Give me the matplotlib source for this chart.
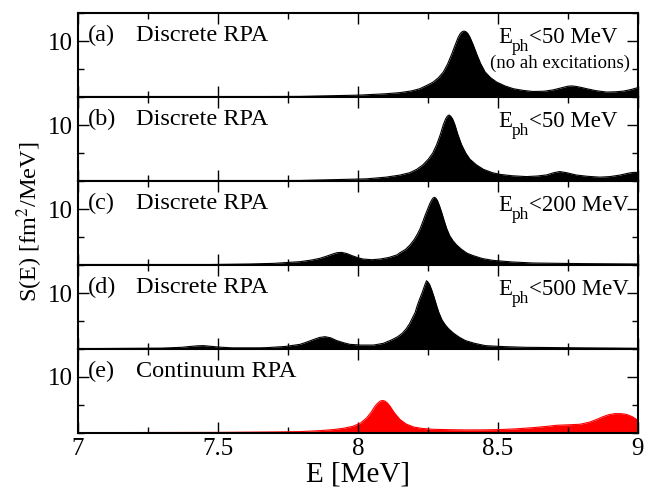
import matplotlib
matplotlib.use("Agg")
import matplotlib.pyplot as plt
from matplotlib.ticker import MultipleLocator

plt.rcParams['font.family'] = ['Liberation Serif', 'DejaVu Serif']
plt.rcParams['mathtext.fontset'] = 'stix'

# strength function, panel by panel
E_a = [7.0, 7.5, 7.793, 8.007, 8.100, 8.150, 8.190, 8.221, 8.250, 8.269, 8.288, 8.305,
       8.320, 8.335, 8.347, 8.358, 8.366, 8.373, 8.379, 8.385, 8.392, 8.400, 8.412,
       8.424, 8.438, 8.454, 8.473, 8.495, 8.525, 8.555, 8.590, 8.626, 8.665, 8.698,
       8.730, 8.750, 8.764, 8.780, 8.800, 8.817, 8.850, 8.888, 8.920, 8.948, 8.975, 9.0]
S_a = [0.03, 0.07, 0.12, 0.36, 0.6, 0.8, 1.1, 1.5, 2.2, 2.7, 3.5, 4.5,
       5.9, 7.7, 9.3, 10.7, 11.4, 11.7, 11.8, 11.7, 11.4, 10.7, 9.3,
       7.7, 6.0, 4.5, 3.5, 2.7, 2.0, 1.5, 1.2, 1.0, 1.05, 1.3,
       1.7, 1.95, 2.0, 1.9, 1.7, 1.5, 1.15, 0.9, 0.95, 1.07, 1.35, 1.7]

E_b = [7.0, 7.5, 7.793, 8.031, 8.100, 8.150, 8.185, 8.210, 8.232, 8.251, 8.267, 8.281,
       8.294, 8.305, 8.313, 8.319, 8.325, 8.331, 8.338, 8.346, 8.357, 8.370, 8.385,
       8.400, 8.423, 8.448, 8.480, 8.507, 8.550, 8.602, 8.640, 8.674, 8.700, 8.721,
       8.745, 8.781, 8.820, 8.864, 8.900, 8.936, 8.965, 8.983, 9.0]
S_b = [0.03, 0.06, 0.1, 0.4, 0.7, 1.07, 1.5, 2.1, 2.9, 3.9, 5.0, 6.5,
       8.3, 10.1, 11.1, 11.6, 11.8, 11.6, 11.1, 10.1, 8.3, 6.5, 5.0,
       3.9, 2.9, 2.1, 1.5, 1.2, 0.95, 0.8, 0.9, 1.1, 1.5, 1.7,
       1.5, 1.07, 0.85, 0.7, 0.8, 1.07, 1.4, 1.55, 1.55]

E_c = [7.0, 7.436, 7.614, 7.700, 7.793, 7.835, 7.864, 7.886, 7.906, 7.925, 7.942,
       7.960, 7.979, 8.000, 8.018, 8.050, 8.079, 8.110, 8.139, 8.150, 8.170, 8.186,
       8.200, 8.212, 8.222, 8.232, 8.240, 8.248, 8.256, 8.263, 8.268, 8.273, 8.278,
       8.284, 8.291, 8.299, 8.308, 8.317, 8.328, 8.340, 8.352, 8.370, 8.390, 8.412,
       8.445, 8.483, 8.550, 8.626, 8.800, 9.0]
S_c = [0.03, 0.06, 0.18, 0.3, 0.6, 0.9, 1.2, 1.55, 1.9, 2.2, 2.26,
       2.05, 1.67, 1.3, 1.07, 0.95, 1.07, 1.35, 1.8, 2.2, 2.8, 3.6,
       4.5, 5.5, 6.5, 7.8, 8.9, 9.9, 10.9, 11.6, 11.95, 12.1, 11.95,
       11.5, 10.6, 9.4, 7.9, 6.5, 5.2, 4.3, 3.6, 2.8, 2.1, 1.67,
       1.15, 0.83, 0.55, 0.36, 0.25, 0.18]

E_d = [7.0, 7.3, 7.37, 7.40, 7.425, 7.447, 7.47, 7.50, 7.55, 7.65, 7.674, 7.740,
       7.793, 7.815, 7.840, 7.862, 7.882, 7.902, 7.924, 7.950, 7.971, 8.010, 8.055,
       8.090, 8.114, 8.122, 8.142, 8.158, 8.172, 8.184, 8.194, 8.204, 8.212, 8.220,
       8.228, 8.235, 8.240, 8.245, 8.250, 8.256, 8.263, 8.271, 8.280, 8.289, 8.300,
       8.312, 8.324, 8.342, 8.362, 8.384, 8.417, 8.455, 8.522, 8.598, 8.800, 9.0]
S_d = [0.05, 0.15, 0.3, 0.45, 0.56, 0.6, 0.5, 0.35, 0.2, 0.2, 0.24, 0.45,
       0.83, 1.2, 1.67, 2.05, 2.2, 2.0, 1.5, 1.1, 0.83, 0.7, 0.7,
       1.0, 1.5, 1.67, 2.2, 2.8, 3.6, 4.5, 5.5, 6.5, 7.8, 8.9,
       9.9, 10.9, 11.6, 12.2, 11.95, 11.5, 10.6, 9.4, 7.9, 6.5, 5.2,
       4.3, 3.6, 2.8, 2.1, 1.5, 1.0, 0.6, 0.42, 0.3, 0.2, 0.12]

E_e = [7.0, 7.5, 7.700, 7.793, 7.860, 7.912, 7.950, 7.983, 8.010, 8.031, 8.047, 8.061,
       8.072, 8.080, 8.088, 8.096, 8.105, 8.114, 8.130, 8.150, 8.172, 8.198, 8.230,
       8.269, 8.330, 8.388, 8.450, 8.507, 8.570, 8.626, 8.670, 8.710, 8.750, 8.793,
       8.825, 8.852, 8.875, 8.895, 8.917, 8.940, 8.960, 8.980, 9.0]
S_e = [0.05, 0.1, 0.18, 0.24, 0.4, 0.6, 0.85, 1.2, 1.8, 2.7, 3.7, 4.8,
       5.4, 5.7, 5.8, 5.7, 5.35, 4.8, 3.6, 2.4, 1.6, 1.07, 0.8,
       0.65, 0.58, 0.54, 0.55, 0.6, 0.75, 0.95, 1.15, 1.37, 1.45, 1.55,
       1.9, 2.4, 2.9, 3.25, 3.45, 3.45, 3.3, 2.9, 2.26]

energies = [E_a, E_b, E_c, E_d, E_e]
strengths = [S_a, S_b, S_c, S_d, S_e]
tags = ['(a)', '(b)', '(c)', '(d)', '(e)']
methods = ['Discrete RPA', 'Discrete RPA', 'Discrete RPA', 'Discrete RPA', 'Continuum RPA']
cuts = ['<50 MeV', '<50 MeV', '<200 MeV', '<500 MeV', None]
colors = ['black', 'black', 'black', 'black', 'red']

fig, axes = plt.subplots(5, 1, figsize=(6.45, 4.87), dpi=100, sharex=True)
fig.subplots_adjust(left=0.121, right=0.989, top=0.973, bottom=0.111, hspace=0)
rend = fig.canvas.get_renderer()


def cut_label(ax, rest):
    # E, subscript ph, then the rest, laid out one after another
    x0, y0 = 0.75, 0.643
    t1 = ax.text(x0, y0, 'E', transform=ax.transAxes, fontsize=16.5, va='baseline')
    w1 = t1.get_window_extent(rend).width * 72 / fig.dpi
    t2 = ax.annotate('ph', (x0, y0), xycoords='axes fraction', xytext=(w1, -6),
                     textcoords='offset points', fontsize=12.5, va='baseline')
    w2 = t2.get_window_extent(rend).width * 72 / fig.dpi
    ax.annotate(rest, (x0, y0), xycoords='axes fraction', xytext=(w1 + w2, 0),
                textcoords='offset points', fontsize=16.5, va='baseline')


for i, ax in enumerate(axes):
    ax.fill_between(energies[i], strengths[i], 0, color=colors[i], lw=0)
    ax.plot(energies[i], strengths[i], color=colors[i], lw=0.8)
    ax.set_xlim(7, 9)
    ax.set_ylim(0, 15)
    ax.set_yticks([10])
    ax.yaxis.set_minor_locator(MultipleLocator(5))
    ax.xaxis.set_major_locator(MultipleLocator(0.5))
    ax.xaxis.set_minor_locator(MultipleLocator(0.25))
    ax.tick_params(which='both', direction='in', top=True, right=True, labelsize=18)
    ax.tick_params(axis='y', pad=4)
    ax.tick_params(which='major', length=8, width=1)
    ax.tick_params(which='minor', length=4.5, width=1)
    for sp in ax.spines.values():
        sp.set_linewidth(1.5)
    ax.text(0.018, 0.73, tags[i], transform=ax.transAxes, fontsize=17.5, va='center')
    ax.text(0.103, 0.73, methods[i], transform=ax.transAxes, fontsize=17.5, va='center')
    if cuts[i]:
        cut_label(ax, cuts[i])

axes[0].text(0.986, 0.405, '(no ah excitations)', transform=axes[0].transAxes,
             fontsize=13.5, va='center', ha='right')

axes[-1].set_xticks([7, 7.5, 8, 8.5, 9])
axes[-1].set_xticklabels(['7', '7.5', '8', '8.5', '9'])
axes[-1].set_xlabel('E [MeV]', fontsize=21, labelpad=1)
fig.text(0.046, 0.544, r'S(E) [fm$^2$/MeV]', rotation=90, fontsize=17.5,
         va='center', ha='center')

fig.savefig('out.png', dpi=100)
